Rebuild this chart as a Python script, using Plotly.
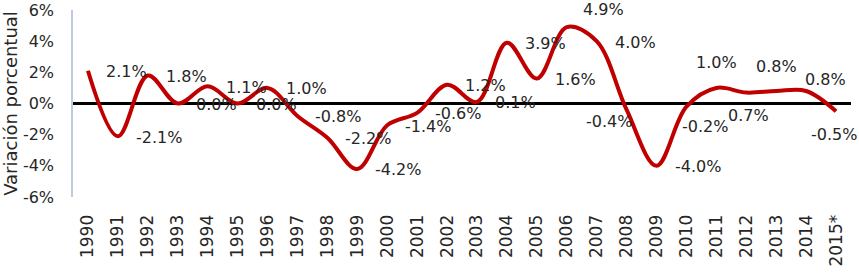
import plotly.graph_objects as go

years = ["1990", "1991", "1992", "1993", "1994", "1995", "1996", "1997", "1998",
         "1999", "2000", "2001", "2002", "2003", "2004", "2005", "2006", "2007",
         "2008", "2009", "2010", "2011", "2012", "2013", "2014", "2015*"]
variation = [2.1, -2.1, 1.8, 0.0, 1.1, 0.0, 1.0, -0.8, -2.2, -4.2, -1.4, -0.6, 1.2,
             0.1, 3.9, 1.6, 4.9, 4.0, -0.4, -4.0, -0.2, 1.0, 0.7, 0.8, 0.8, -0.5]
y_ticks = [-6, -4, -2, 0, 2, 4, 6]
y_tick_labels = ["-6%", "-4%", "-2%", "0%", "2%", "4%", "6%"]

# label placement relative to each point (style)
label_place = ["r"] * 16 + ["tr", "r", "bl", "r", "br", "t", "b", "t", "tr2", "b"]
place_style = {
    "r": dict(xanchor="left", yanchor="middle", xshift=17, yshift=-1),
    "tr": dict(xanchor="left", yanchor="middle", xshift=15, yshift=18),
    "tr2": dict(xanchor="left", yanchor="middle", xshift=-2, yshift=12),
    "bl": dict(xanchor="right", yanchor="middle", xshift=6, yshift=-12),
    "br": dict(xanchor="left", yanchor="middle", xshift=-5, yshift=-20),
    "t": dict(xanchor="center", yanchor="middle", xshift=0, yshift=25),
    "b": dict(xanchor="center", yanchor="middle", xshift=2, yshift=-23),
}

FONT = "DejaVu Sans"
TXT = "#262626"
FS = 16

fig = go.Figure()
fig.add_trace(go.Scatter(
    x=list(range(len(years))), y=variation, mode="lines",
    line=dict(color="#C00000", width=4, shape="spline", smoothing=1.0),
    hoverinfo="skip", showlegend=False,
))

annotations = []
for i, v in enumerate(variation):
    st = dict(place_style[label_place[i]])
    if i == len(variation) - 1:
        st["xshift"] = -2
    annotations.append(dict(
        x=i, y=v, xref="x", yref="y", text=f"{v:.1f}%", showarrow=False,
        font=dict(family=FONT, size=FS, color=TXT), borderpad=0, **st))

fig.update_layout(
    width=859, height=278,
    margin=dict(l=73, r=8, t=10, b=81),
    paper_bgcolor="white", plot_bgcolor="white",
    font=dict(family=FONT, size=FS, color=TXT),
    annotations=annotations,
    xaxis=dict(
        range=[-0.5, 25.5], tickangle=-90, automargin=False,
        tickvals=list(range(len(years))), ticktext=years,
        showgrid=False, showline=False, zeroline=False,
        ticks="outside", ticklen=10, tickcolor="rgba(0,0,0,0)",
        tickfont=dict(family=FONT, size=17, color=TXT),
    ),
    yaxis=dict(
        range=[-6, 6], tickvals=y_ticks, ticktext=y_tick_labels, automargin=False,
        showgrid=False, showline=True, linecolor="#BCCBDD", linewidth=1.5,
        zeroline=True, zerolinecolor="#000000", zerolinewidth=2.5,
        ticks="outside", ticklen=14, tickcolor="rgba(0,0,0,0)",
        tickfont=dict(family=FONT, size=FS, color=TXT),
        title=dict(text="Variación porcentual", standoff=3,
                   font=dict(family=FONT, size=18, color=TXT)),
    ),
)

fig.write_html("out.html")
